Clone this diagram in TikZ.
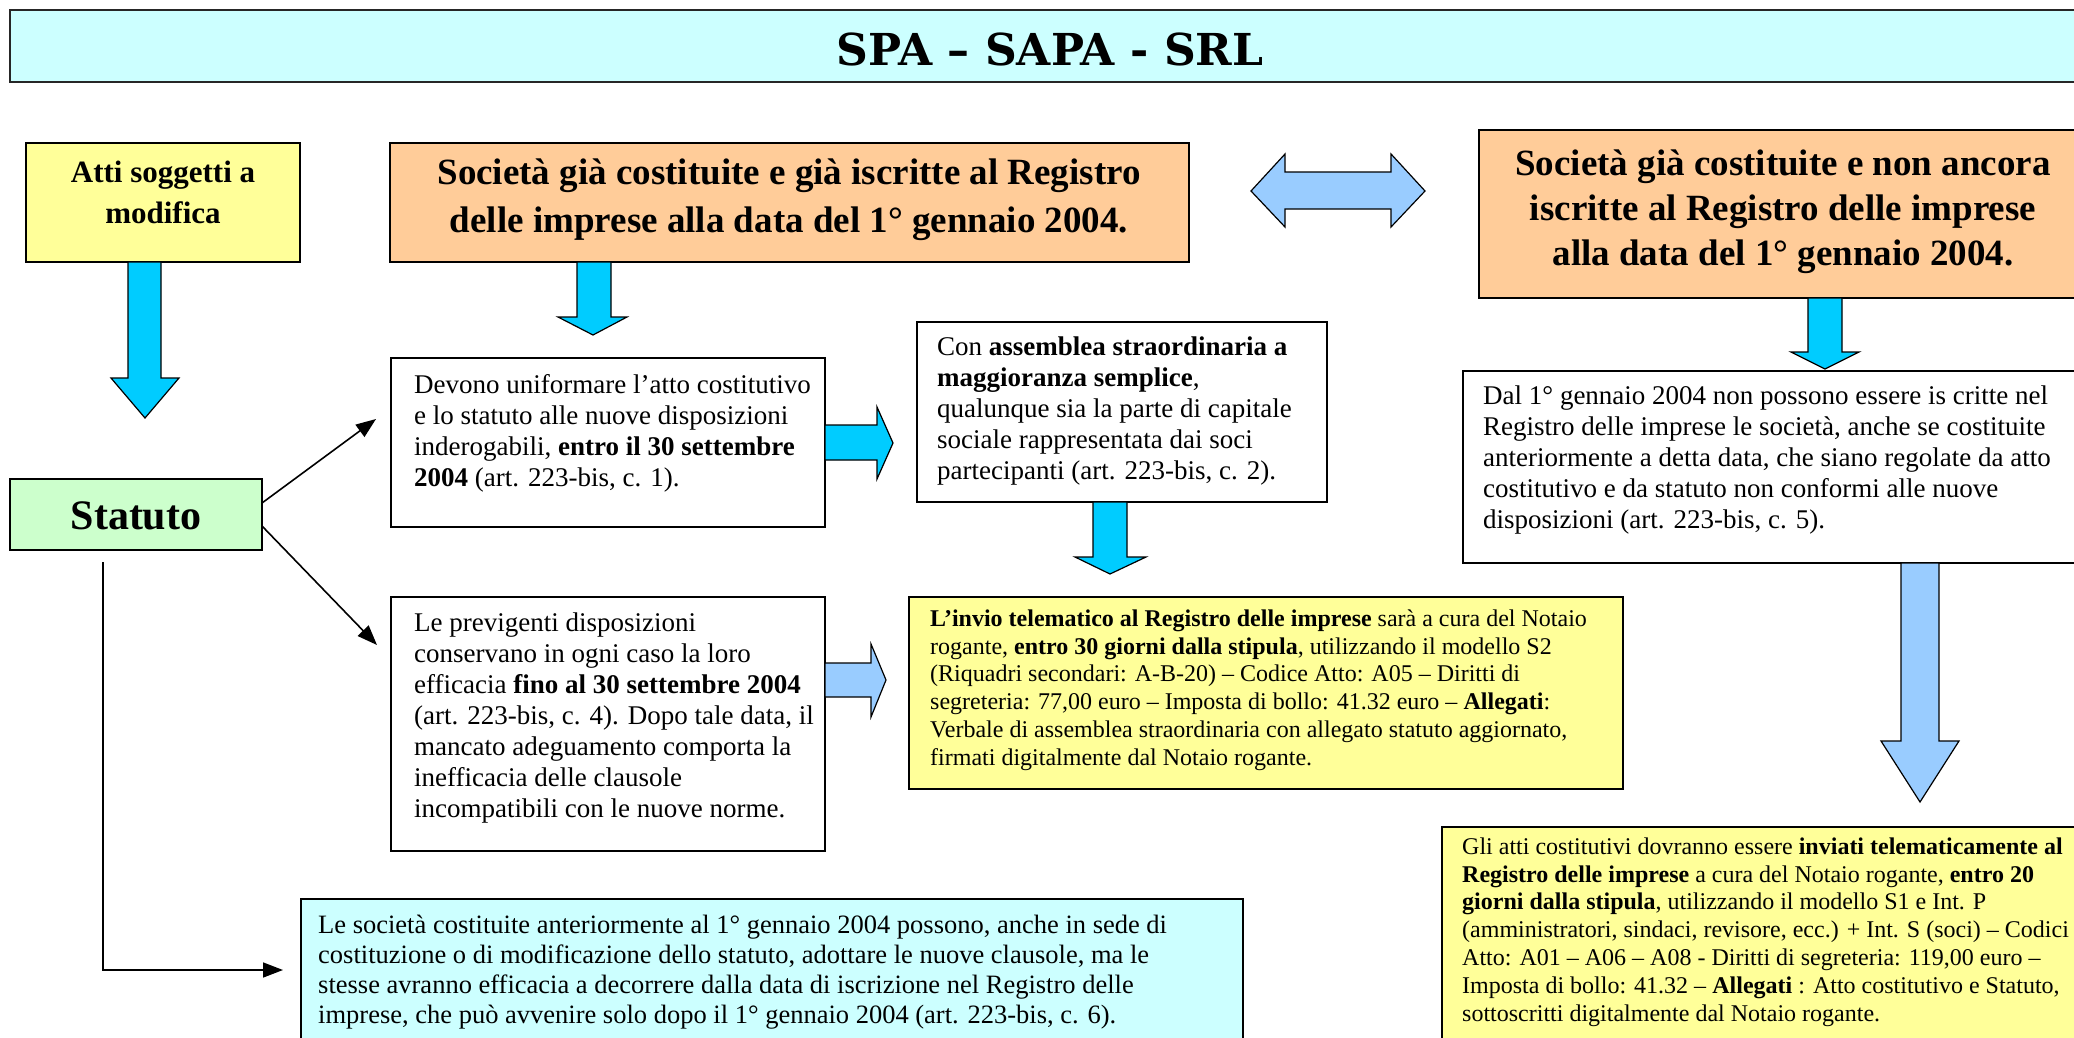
\documentclass[tikz,border=0pt]{standalone}
\usepackage{fontspec}
\setmainfont{Liberation Serif}
\newfontfamily\titlefont{DejaVu Serif}
\usetikzlibrary{arrows.meta}
\definecolor{cyanarrow}{HTML}{00CCFF}
\definecolor{lightarrow}{HTML}{99CCFF}
\definecolor{orangebox}{HTML}{FFCC99}
\definecolor{yellowbox}{HTML}{FFFF99}
\definecolor{greenbox}{HTML}{CCFFCC}
\definecolor{cyanbox}{HTML}{CCFFFF}
\begin{document}
\begin{tikzpicture}[x=1pt,y=-1pt,
  box/.style={draw=black, line width=1.8pt, inner sep=0pt, outer sep=0pt, anchor=north west},
  txt/.style={inner sep=0pt, anchor=west, align=left},
  ctxt/.style={inner sep=0pt, anchor=center, align=center},
  midtxt/.style={font=\fontsize{27}{31}\selectfont},
  smalltxt/.style={font=\fontsize{24}{27.8}\selectfont},
  blockarrow/.style={draw=black, line width=1.2pt, line join=miter},
  conn/.style={draw=black, line width=1.6pt, -{Triangle[length=20pt,width=15pt]}},
]
\useasboundingbox (0,0) rectangle (2074,1038);
\clip (0,0) rectangle (2074,1038);
\fill[white] (0,0) rectangle (2074,1038);

% title
\node[box, draw=black!85, fill=cyanbox, minimum width=2090pt, minimum height=72pt] (title) at (10,10) {};
\node[ctxt, font=\titlefont\bfseries\fontsize{44}{50}\selectfont] (titleT) at (1050,49) {SPA – SAPA - SRL};

% boxes
\node[box, fill=yellowbox, minimum width=274pt, minimum height=119pt] (atti) at (26,143) {};
\node[box, fill=orangebox, minimum width=799pt, minimum height=119pt] (soc1) at (390,143) {};
\node[box, fill=orangebox, minimum width=620pt, minimum height=168pt] (soc2) at (1479,130) {};
\node[box, fill=greenbox, minimum width=252pt, minimum height=71pt] (statuto) at (10,479) {};
\node[box, fill=white, minimum width=434pt, minimum height=169pt] (devono) at (391,358) {};
\node[box, fill=white, minimum width=410pt, minimum height=180pt] (con) at (917,322) {};
\node[box, fill=white, minimum width=434pt, minimum height=254pt] (prev) at (391,597) {};
\node[box, fill=yellowbox, minimum width=714pt, minimum height=192pt] (invio) at (909,597) {};
\node[box, fill=white, minimum width=640pt, minimum height=192pt] (dal) at (1463,371) {};
\node[box, fill=yellowbox, minimum width=660pt, minimum height=230pt] (gli) at (1442,827) {};
\node[box, fill=cyanbox, minimum width=942pt, minimum height=160pt] (socc) at (301,899) {};

% texts
\node[ctxt, font=\bfseries\fontsize{31}{41}\selectfont] (attiT) at (163,192) {Atti soggetti a\\modifica};
\node[ctxt, font=\bfseries\fontsize{37}{48}\selectfont] (soc1T) at (789,200) {Società già costituite e già iscritte al Registro\\delle imprese alla data del 1° gennaio 2004.};
\node[ctxt, font=\bfseries\fontsize{37}{45}\selectfont] (soc2T) at (1783,212) {Società già costituite e non ancora\\iscritte al Registro delle imprese\\alla data del 1° gennaio 2004.};
\node[ctxt, font=\bfseries\fontsize{42}{48}\selectfont] (statT) at (136,516) {Statuto};

\node[txt, midtxt] (devT) at (414,433) {Devono uniformare l’atto costitutivo\\e lo statuto alle nuove disposizioni\\inderogabili, \textbf{entro il 30 settembre}\\\textbf{2004} (art. 223-bis, c. 1).};
\node[txt, midtxt] (conT) at (937,411) {Con \textbf{assemblea straordinaria a}\\\textbf{maggioranza semplice},\\qualunque sia la parte di capitale\\sociale rappresentata dai soci\\partecipanti (art. 223-bis, c. 2).};
\node[txt, midtxt] (prevT) at (414,718) {Le previgenti disposizioni\\conservano in ogni caso la loro\\efficacia \textbf{fino al 30 settembre 2004}\\(art. 223-bis, c. 4). Dopo tale data, il\\mancato adeguamento comporta la\\inefficacia delle clausole\\incompatibili con le nuove norme.};
\node[txt, smalltxt] (invioT) at (930,690) {\textbf{L’invio telematico al Registro delle imprese} sarà a cura del Notaio\\rogante, \textbf{entro 30 giorni dalla stipula}, utilizzando il modello S2\\(Riquadri secondari: A-B-20) – Codice Atto: A05 – Diritti di\\segreteria: 77,00 euro – Imposta di bollo: 41.32 euro – \textbf{Allegati}:\\Verbale di assemblea straordinaria con allegato statuto aggiornato,\\firmati digitalmente dal Notaio rogante.};
\node[txt, midtxt] (dalT) at (1483,460) {Dal 1° gennaio 2004 non possono essere is critte nel\\Registro delle imprese le società, anche se costituite\\anteriormente a detta data, che siano regolate da atto\\costitutivo e da statuto non conformi alle nuove\\disposizioni (art. 223-bis, c. 5).};
\node[txt, smalltxt] (gliT) at (1462,932) {Gli atti costitutivi dovranno essere \textbf{inviati telematicamente al}\\\textbf{Registro delle imprese} a cura del Notaio rogante, \textbf{entro 20}\\\textbf{giorni dalla stipula}, utilizzando il modello S1 e Int. P\\(amministratori, sindaci, revisore, ecc.) + Int. S (soci) – Codici\\Atto: A01 – A06 – A08 - Diritti di segreteria: 119,00 euro –\\Imposta di bollo: 41.32 – \textbf{Allegati} : Atto costitutivo e Statuto,\\sottoscritti digitalmente dal Notaio rogante.};
\node[txt, font=\fontsize{26.5}{30}\selectfont] (soccT) at (318,972) {Le società costituite anteriormente al 1° gennaio 2004 possono, anche in sede di\\costituzione o di modificazione dello statuto, adottare le nuove clausole, ma le\\stesse avranno efficacia a decorrere dalla data di iscrizione nel Registro delle\\imprese, che può avvenire solo dopo il 1° gennaio 2004 (art. 223-bis, c. 6).};

% block arrows
\draw[blockarrow, fill=cyanarrow] (128,262) -- (161,262) -- (161,378) -- (179,378) -- (145,418) -- (111,378) -- (128,378) -- cycle;
\draw[blockarrow, fill=cyanarrow] (577,262) -- (611,262) -- (611,317) -- (627,317) -- (593,335) -- (558,317) -- (577,317) -- cycle;
\draw[blockarrow, fill=lightarrow] (1251,191) -- (1285,154) -- (1285,172) -- (1391,172) -- (1391,154) -- (1425,191) -- (1391,227) -- (1391,209) -- (1285,209) -- (1285,227) -- cycle;
\draw[blockarrow, fill=cyanarrow] (1808,298) -- (1842,298) -- (1842,352) -- (1859,352) -- (1825,369) -- (1791,352) -- (1808,352) -- cycle;
\draw[blockarrow, fill=cyanarrow] (825,425) -- (877,425) -- (877,407) -- (893,443) -- (877,479) -- (877,460) -- (825,460) -- cycle;
\draw[blockarrow, fill=cyanarrow] (1093,502) -- (1127,502) -- (1127,557) -- (1146,557) -- (1110,574) -- (1075,557) -- (1093,557) -- cycle;
\draw[blockarrow, fill=lightarrow] (825,663) -- (871,663) -- (871,644) -- (886,680) -- (871,717) -- (871,697) -- (825,697) -- cycle;
\draw[blockarrow, fill=lightarrow] (1901,563) -- (1939,563) -- (1939,741) -- (1959,741) -- (1920,802) -- (1881,741) -- (1901,741) -- cycle;

% thin connectors
\coordinate (c1) at (376,419);
\coordinate (c2) at (377,645);
\coordinate (e0) at (103,562);
\coordinate (e1) at (283,970);
\draw[conn] ([yshift=11.5pt]statuto.east) -- (c1);
\draw[conn] ([yshift=-11.5pt]statuto.east) -- (c2);
\draw[conn] (e0) |- (e1);
\end{tikzpicture}
\end{document}
